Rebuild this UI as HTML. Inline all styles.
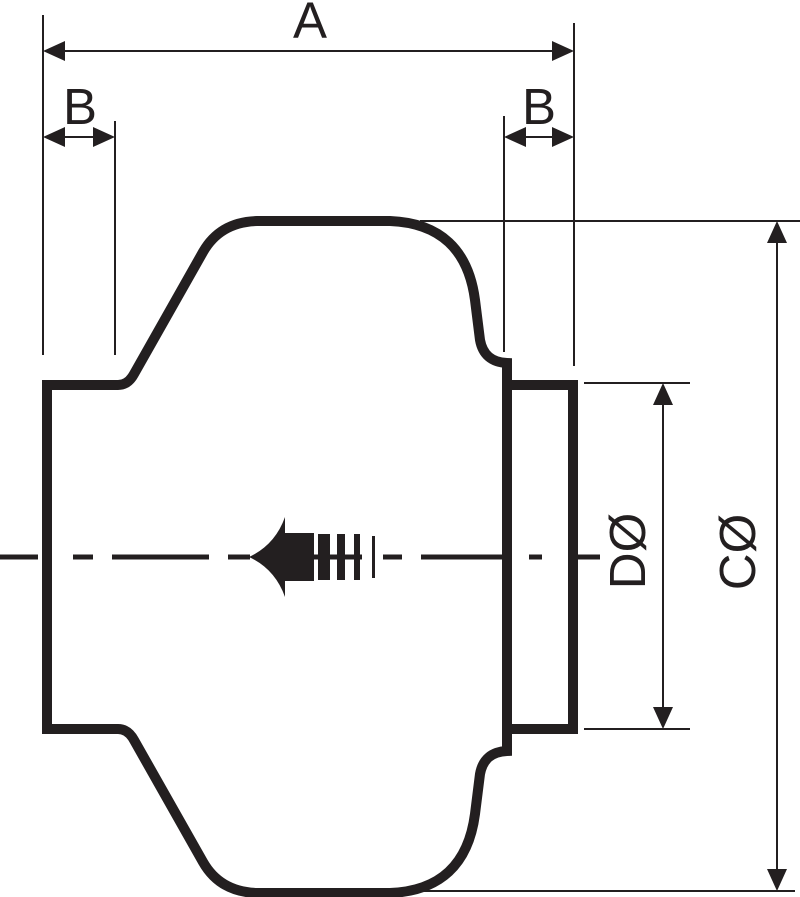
<!DOCTYPE html>
<html><head><style>body{margin:0;background:#fff}svg{display:block}</style></head>
<body>
<svg width="800" height="897" viewBox="0 0 800 897" xmlns="http://www.w3.org/2000/svg">
<g stroke="#231f20" stroke-width="2" fill="none">
<line x1="43" y1="15" x2="43" y2="355"/>
<line x1="115" y1="121" x2="115" y2="355"/>
<line x1="504" y1="116" x2="504" y2="352"/>
<line x1="574" y1="23" x2="574" y2="366"/>
<line x1="60" y1="51" x2="558" y2="51"/>
<line x1="60" y1="137" x2="100" y2="137"/>
<line x1="520" y1="137" x2="558" y2="137"/>
<line x1="420" y1="221" x2="800" y2="221"/>
<line x1="415" y1="891" x2="795" y2="891"/>
<line x1="584" y1="383" x2="690" y2="383"/>
<line x1="584" y1="729" x2="690" y2="729"/>
<line x1="663" y1="400" x2="663" y2="712"/>
<line x1="777" y1="238" x2="777" y2="874"/>
</g>
<g fill="#231f20">
<polygon points="43,51 65,41 65,61"/>
<polygon points="574,51 552,41 552,61"/>
<polygon points="43,137 65,127 65,147"/>
<polygon points="115,137 93,127 93,147"/>
<polygon points="504,137 526,127 526,147"/>
<polygon points="574,137 552,127 552,147"/>
<polygon points="663,383 653,405 673,405"/>
<polygon points="663,729 653,707 673,707"/>
<polygon points="777,221 767,243 787,243"/>
<polygon points="777,891 767,869 787,869"/>
</g>
<g fill="none" stroke="#231f20" stroke-width="10" stroke-linejoin="miter">
<path d="M47,385 L118,385 Q128,385 134,374 L203,252 Q220,222 257,221 L390,221 Q465,224 475,300 L480,340 Q484,362 507,363 L507,385"/>
<path d="M47,729 L118,729 Q128,729 134,740 L203,862 Q220,892 257,893 L390,893 Q465,890 475,814 L480,774 Q484,752 507,751 L507,729"/>
<line x1="47" y1="380" x2="47" y2="734"/>
<rect x="507" y="385" width="66" height="344"/>
</g>
<g stroke="#231f20" stroke-width="5">
<line x1="0" y1="557" x2="38" y2="557"/>
<line x1="73" y1="557" x2="93" y2="557"/>
<line x1="112" y1="557" x2="209" y2="557"/>
<line x1="228" y1="557" x2="250" y2="557"/>
<line x1="383" y1="557" x2="402" y2="557"/>
<line x1="421" y1="557" x2="508" y2="557"/>
<line x1="529" y1="557" x2="542" y2="557"/>
<line x1="568" y1="557" x2="600" y2="557"/>
<line x1="314" y1="557" x2="362" y2="557"/>
</g>
<g fill="#231f20">
<path d="M249,557 Q275,545 285,517 L285,533 L314,533 L314,581 L285,581 L285,597 Q275,569 249,557 Z"/>
<rect x="318" y="534" width="12" height="46"/>
<rect x="337" y="534" width="8" height="46"/>
<rect x="354" y="534" width="6" height="46"/>
<rect x="372" y="536" width="3" height="42"/>
</g>
<g font-family="Liberation Sans, sans-serif" font-size="51" fill="#231f20" text-anchor="middle">
<text x="310" y="38">A</text>
<text x="80" y="124">B</text>
<text x="539" y="124">B</text>
<text transform="translate(645,551) rotate(-90)">DØ</text>
<text transform="translate(755,552) rotate(-90)">CØ</text>
</g>
</svg>
</body></html>
